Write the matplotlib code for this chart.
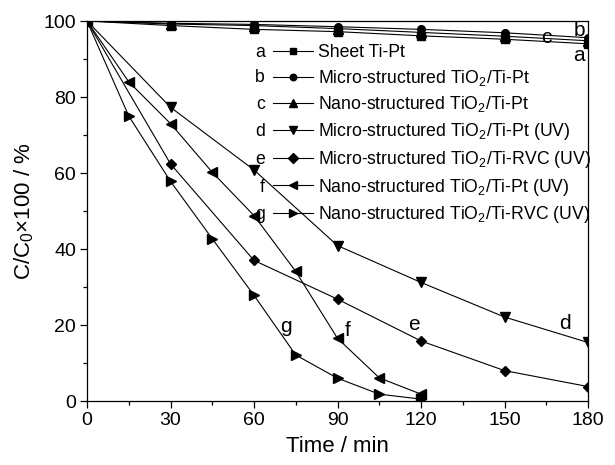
import matplotlib
matplotlib.use("Agg")
import matplotlib.pyplot as plt
from matplotlib.ticker import MultipleLocator

plt.rcParams['font.family'] = ['Liberation Sans', 'DejaVu Sans']
plt.rcParams['mathtext.fontset'] = 'custom'
plt.rcParams['mathtext.rm'] = 'Liberation Sans'
plt.rcParams['mathtext.it'] = 'Liberation Sans:italic'
plt.rcParams['mathtext.sf'] = 'Liberation Sans'

# ---- data ----
t_long = [0, 30, 60, 90, 120, 150, 180]
t_short = [0, 15, 30, 45, 60, 75, 90, 105, 120]

a_sheet = [100, 98.8, 97.8, 97.2, 96.1, 95.2, 94.0]
b_micro = [100, 99.4, 99.1, 98.5, 97.8, 96.9, 95.6]
c_nano = [100, 99.2, 98.8, 98.0, 97.0, 96.0, 94.8]
d_micro_uv = [100, 77.3, 60.8, 40.9, 31.2, 22.1, 15.4]
e_micro_rvc_uv = [100, 62.4, 37.0, 26.8, 15.8, 8.0, 3.8]
f_nano_uv = [100, 84.0, 73.0, 60.2, 48.8, 34.1, 16.5, 6.1, 1.8]
g_nano_rvc_uv = [100, 75.0, 57.8, 42.7, 27.8, 12.1, 6.0, 1.8, 0.5]

letters = ['a', 'b', 'c', 'd', 'e', 'f', 'g']
labels = ['Sheet Ti-Pt',
          'Micro-structured TiO$_2$/Ti-Pt',
          'Nano-structured TiO$_2$/Ti-Pt',
          'Micro-structured TiO$_2$/Ti-Pt (UV)',
          'Micro-structured TiO$_2$/Ti-RVC (UV)',
          'Nano-structured TiO$_2$/Ti-Pt (UV)',
          'Nano-structured TiO$_2$/Ti-RVC (UV)']
markers = ['s', 'o', '^', 'v', 'D', '<', '>']
series = [(t_long, a_sheet), (t_long, b_micro), (t_long, c_nano),
          (t_long, d_micro_uv), (t_long, e_micro_rvc_uv),
          (t_short, f_nano_uv), (t_short, g_nano_rvc_uv)]

# curve label annotations (letter, x, y)
curve_letters = ['g', 'f', 'e', 'd', 'c', 'b', 'a']
curve_lx = [71.5, 93.5, 117.3, 171.8, 165.2, 176.8, 176.8]
curve_ly = [19.5, 18.6, 20.0, 20.4, 95.6, 97.4, 91.0]

FS_TICK = 14
FS_LABEL = 16
FS_LEG = 12.7
FS_CURVE = 15

fig = plt.figure(figsize=(6.15, 4.65), dpi=100)
ax = fig.add_axes([87/615, (465-401)/465, (588-87)/615, (401-21)/465])

for (x, y), m, lab in zip(series, markers, labels):
    ms = 6.5
    if m in ('s', 'o', 'D'):
        ms = 5.5
    ax.plot(x, y, color='black', lw=0.8, marker=m, ms=ms,
            markerfacecolor='black', markeredgecolor='black', label=lab)

for s, x, y in zip(curve_letters, curve_lx, curve_ly):
    ax.text(x, y, s, fontsize=FS_CURVE, ha='center', va='center')

ax.set_xlim(0, 180)
ax.set_ylim(0, 100)
ax.xaxis.set_major_locator(MultipleLocator(30))
ax.xaxis.set_minor_locator(MultipleLocator(15))
ax.yaxis.set_major_locator(MultipleLocator(20))
ax.yaxis.set_minor_locator(MultipleLocator(10))
ax.tick_params(which='both', direction='out', top=False, right=False,
               labelsize=FS_TICK, width=0.9, color='black', pad=3)
ax.tick_params(which='major', length=5)
ax.tick_params(which='minor', length=3)
for sp in ax.spines.values():
    sp.set_linewidth(0.9)

ax.set_xlabel('Time / min', fontsize=FS_LABEL, labelpad=5)
ax.set_ylabel('C/C$_0$\u00d7100 / %', fontsize=FS_LABEL, labelpad=5)

leg = ax.legend(loc='upper left', bbox_to_anchor=(273/615, 1 - 44/465),
                bbox_transform=fig.transFigure, frameon=False,
                fontsize=FS_LEG, handlelength=2.27, handletextpad=0.28,
                labelspacing=0.38, borderpad=0, borderaxespad=0,
                markerscale=0.85)

fig.canvas.draw()
renderer = fig.canvas.get_renderer()
inv = fig.transFigure.inverted()
for txt, letter in zip(leg.get_texts(), letters):
    bb = txt.get_window_extent(renderer)
    ycen = 0.5 * (bb.y0 + bb.y1)
    hx = bb.x0 - (0.28 + 2.27) * FS_LEG * 100 / 72
    xf, yf = inv.transform((hx - 8, ycen))
    fig.text(xf, yf, letter, fontsize=FS_LEG, ha='right', va='center')

fig.savefig('out.png', dpi=100)
